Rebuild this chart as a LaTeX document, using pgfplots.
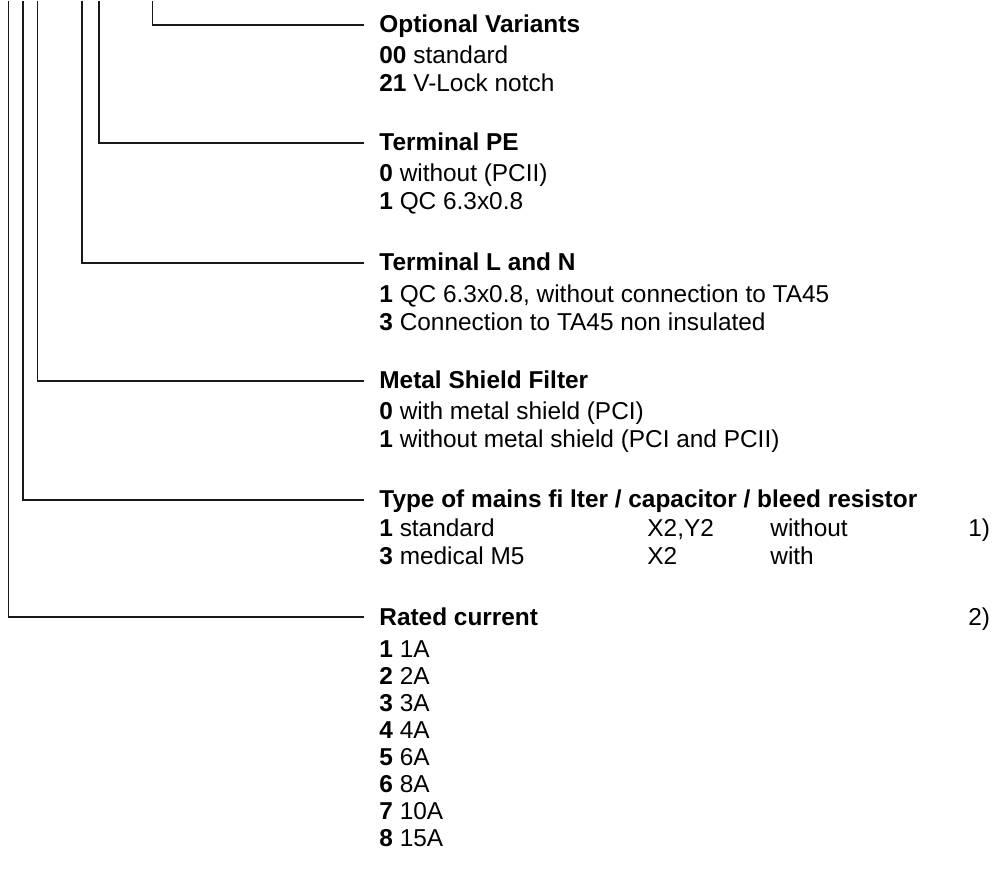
\documentclass[border=0pt]{standalone}
\usepackage{pgfplots}
\pgfplotsset{compat=1.18}
\usepackage{fontspec}
\setmainfont{Liberation Sans}
\newcommand\tx[3]{\node[anchor=base west, inner sep=0pt, font=\fontsize{12.2}{14}\selectfont] at (axis cs:#1,#2+7.8) {#3};}
\begin{document}
\begin{tikzpicture}
\begin{axis}[x=0.5pt,y=0.5pt,xmin=0,xmax=994,ymin=0,ymax=870,y dir=reverse,hide axis,clip=false,scale only axis]
\addplot[draw=none] coordinates {(0,0) (994,870)};
\addplot[line width=0.8pt, black!90] coordinates {(152.5,-2) (152.5,22) (364,22)};
\addplot[line width=0.8pt, black!90] coordinates {(99,-2) (99,140) (364,140)};
\addplot[line width=0.8pt, black!90] coordinates {(82,-2) (82,260) (364,260)};
\addplot[line width=0.8pt, black!90] coordinates {(37.5,-2) (37.5,378) (364,378)};
\addplot[line width=0.8pt, black!90] coordinates {(23,-2) (23,497) (364,497)};
\addplot[line width=0.8pt, black!90] coordinates {(8.5,-2) (8.5,614) (364,614)};
% Optional Variants
\tx{379}{22}{\textbf{Optional Variants}}
\tx{379}{53}{\textbf{00} standard}
\tx{379}{81}{\textbf{21} V-Lock notch}
% Terminal PE
\tx{379}{140}{\textbf{Terminal PE}}
\tx{379}{171}{\textbf{0} without (PCII)}
\tx{379}{199}{\textbf{1} QC 6.3x0.8}
% Terminal L and N
\tx{379}{260}{\textbf{Terminal L and N}}
\tx{379}{292}{\textbf{1} QC 6.3x0.8, without connection to TA45}
\tx{379}{320}{\textbf{3} Connection to TA45 non insulated}
% Metal Shield
\tx{379}{378}{\textbf{Metal Shield Filter}}
\tx{379}{409}{\textbf{0} with metal shield (PCI)}
\tx{379}{437}{\textbf{1} without metal shield (PCI and PCII)}
% Type
\tx{379}{497}{\textbf{Type of mains fi lter / capacitor / bleed resistor}}
\tx{379}{526}{\textbf{1} standard}
\tx{647}{526}{X2,Y2}
\tx{770}{526}{without}
\tx{968}{526}{1)}
\tx{379}{554}{\textbf{3} medical M5}
\tx{647}{554}{X2}
\tx{770}{554}{with}
% Rated current
\tx{379}{615}{\textbf{Rated current}}
\tx{968}{615}{2)}
\tx{379}{647}{\textbf{1} 1A}
\tx{379}{674}{\textbf{2} 2A}
\tx{379}{701}{\textbf{3} 3A}
\tx{379}{728}{\textbf{4} 4A}
\tx{379}{755}{\textbf{5} 6A}
\tx{379}{782}{\textbf{6} 8A}
\tx{379}{809}{\textbf{7} 10A}
\tx{379}{836}{\textbf{8} 15A}
\end{axis}
\end{tikzpicture}
\end{document}
